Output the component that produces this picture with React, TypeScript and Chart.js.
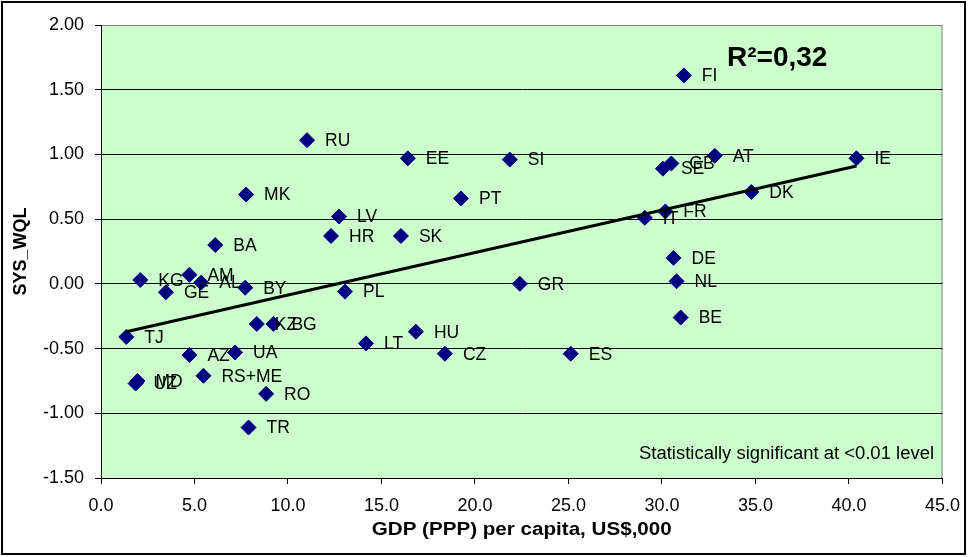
import React, { useEffect, useRef } from "react";
import { Chart, registerables } from "chart.js";

Chart.register(...registerables);

// ---- data ----
const countries = [
  "FI", "RU", "EE", "SI", "PT", "MK", "LV", "HR", "SK", "BA",
  "KG", "AM", "AL", "GE", "BY", "PL", "GR", "KZ", "BG", "TJ",
  "HU", "LT", "CZ", "ES", "AZ", "UA", "MD", "UZ", "RS+ME", "RO",
  "TR", "SE", "GB", "AT", "IE", "DK", "IT", "FR", "DE", "NL", "BE",
];
const gdpPerCapita = [
  31.17, 11.02, 16.41, 21.86, 19.25, 7.76, 12.73, 12.3, 16.04, 6.11,
  2.1, 4.73, 5.36, 3.47, 7.71, 13.05, 22.4, 8.33, 9.22, 1.35,
  16.84, 14.17, 18.39, 25.12, 4.73, 7.17, 1.95, 1.85, 5.48, 8.83,
  7.89, 30.05, 30.5, 32.82, 40.4, 34.78, 29.08, 30.18, 30.62, 30.78, 31.0,
];
const sysWql = [
  1.61, 1.11, 0.97, 0.96, 0.66, 0.69, 0.52, 0.37, 0.37, 0.3,
  0.03, 0.07, 0.01, -0.065, -0.03, -0.06, 0.0, -0.31, -0.31, -0.41,
  -0.37, -0.46, -0.54, -0.54, -0.55, -0.53, -0.75, -0.77, -0.71, -0.85,
  -1.11, 0.89, 0.93, 0.99, 0.97, 0.71, 0.51, 0.56, 0.2, 0.02, -0.26,
];
const trendX = [1.35, 40.4];
const trendY = [-0.37, 0.91];

const xMin = 0, xMax = 45, xStep = 5;
const yMin = -1.5, yMax = 2, yStep = 0.5;

const yTitle = "SYS_WQL";
const xTitle = "GDP (PPP) per capita, US$,000";
const r2Text = "R²=0,32";
const sigText = "Statistically significant at <0.01 level";

const FONT = "'Liberation Sans', Arial, sans-serif";
const NARROW = "'Liberation Sans Narrow', 'Arial Narrow', 'Liberation Sans', sans-serif";

function fitText(ctx: CanvasRenderingContext2D, text: string, x: number, y: number, width: number, align: "left" | "center") {
  const w = ctx.measureText(text).width;
  const s = width / w;
  ctx.save();
  ctx.translate(x, y);
  ctx.scale(s, 1);
  ctx.textAlign = align;
  ctx.fillText(text, 0, 0);
  ctx.restore();
}

const decorPlugin = {
  id: "decor",
  beforeDraw(chart: any) {
    const { ctx, chartArea } = chart;
    const { left, top, right, bottom } = chartArea;
    ctx.save();
    ctx.fillStyle = "#ffffff";
    ctx.fillRect(0, 0, chart.width, chart.height);
    ctx.fillStyle = "#CCFFCC";
    ctx.fillRect(left, top, right - left, bottom - top);
    ctx.strokeStyle = "#808080";
    ctx.lineWidth = 1;
    ctx.strokeRect(left + 0.5, top + 0.5, right - left - 1, bottom - top);
    ctx.restore();
  },
  afterDatasetsDraw(chart: any) {
    const { ctx } = chart;
    const meta = chart.getDatasetMeta(1);
    ctx.save();
    ctx.fillStyle = "#000";
    ctx.font = `17.5px ${FONT}`;
    ctx.textAlign = "left";
    ctx.textBaseline = "middle";
    meta.data.forEach((pt: any, i: number) => {
      ctx.fillText(countries[i], pt.x + 18, pt.y + 1);
    });
    ctx.restore();
  },
  afterDraw(chart: any) {
    const { ctx, chartArea } = chart;
    const { left, top, right, bottom } = chartArea;
    ctx.save();
    // outer frame
    ctx.strokeStyle = "#000";
    ctx.lineWidth = 2;
    ctx.strokeRect(2, 2, 963, 552);
    ctx.fillStyle = "#000";
    // R² annotation
    ctx.font = `bold 28px ${FONT}`;
    ctx.textAlign = "left";
    ctx.textBaseline = "alphabetic";
    ctx.fillText(r2Text, 727, 66);
    // significance note
    ctx.font = `18px ${FONT}`;
    ctx.textBaseline = "middle";
    fitText(ctx, sigText, 639, 454, 295, "left");
    // x title
    ctx.font = `bold 19px ${FONT}`;
    fitText(ctx, xTitle, (left + right) / 2, 530, 300, "center");
    // y title
    ctx.save();
    ctx.translate(21, (top + bottom) / 2);
    ctx.rotate(-Math.PI / 2);
    ctx.font = `bold 18px ${FONT}`;
    ctx.textAlign = "center";
    ctx.fillText(yTitle, 0, 0);
    ctx.restore();
    ctx.restore();
  },
};

export default function App() {
  const ref = useRef<HTMLCanvasElement | null>(null);
  useEffect(() => {
    document.body.style.margin = "0";
    const canvas = ref.current!;
    const chart = new Chart(canvas, {
      type: "scatter",
      data: {
        datasets: [
          {
            type: "line",
            data: trendX.map((x, i) => ({ x, y: trendY[i] })),
            borderColor: "#000",
            borderWidth: 3,
            pointRadius: 0,
            fill: false,
          } as any,
          {
            data: gdpPerCapita.map((x, i) => ({ x, y: sysWql[i] })),
            pointStyle: "rectRot",
            pointRadius: 7.5,
            pointHoverRadius: 7.5,
            backgroundColor: "#000080",
            borderColor: "#000080",
            borderWidth: 1,
          },
        ],
      },
      options: {
        animation: false,
        responsive: false,
        maintainAspectRatio: false,
        layout: { padding: { top: 25, right: 28, left: 0, bottom: 0 } },
        plugins: { legend: { display: false }, tooltip: { enabled: false } },
        scales: {
          x: {
            type: "linear",
            min: xMin,
            max: xMax,
            afterFit: (s: any) => { s.height = 79; },
            ticks: {
              stepSize: xStep,
              color: "#000",
              font: { family: NARROW, size: 18 },
              padding: 11,
              maxRotation: 0,
              callback: (v: any) => Number(v).toFixed(1),
            },
            grid: { drawOnChartArea: false, drawTicks: true, tickLength: 6, tickColor: "#000", color: "#000" },
            border: { color: "#000", width: 1 },
          },
          y: {
            type: "linear",
            min: yMin,
            max: yMax,
            afterFit: (s: any) => { s.width = 101; },
            ticks: {
              stepSize: yStep,
              color: "#000",
              font: { family: FONT, size: 18 },
              padding: 11,
              callback: (v: any) => Number(v).toFixed(2),
            },
            grid: {
              color: (c: any) => (c.tick && c.tick.value === yMax ? "#808080" : "#000"),
              tickColor: "#000",
              tickLength: 6,
              lineWidth: 1,
            },
            border: { color: "#000", width: 1 },
          },
        },
      },
      plugins: [decorPlugin],
    });
    return () => chart.destroy();
  }, []);
  return (
    <div style={{ position: "absolute", left: 0, top: 0, width: 971, height: 557 }}>
      <canvas ref={ref} width={971} height={557} style={{ width: 971, height: 557, display: "block" }} />
    </div>
  );
}
